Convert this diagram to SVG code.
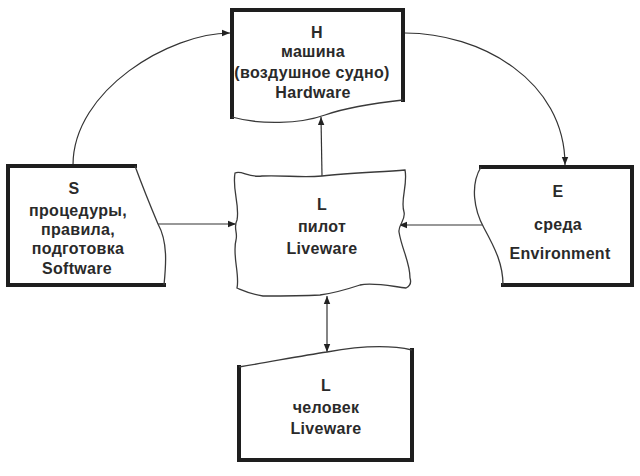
<svg xmlns="http://www.w3.org/2000/svg" width="640" height="476" viewBox="0 0 640 476">
<style>
.thick{fill:none;stroke:#1e1e1e;stroke-width:4;stroke-linejoin:miter;stroke-linecap:square}
.thin{fill:none;stroke:#3a3a3a;stroke-width:1.3}
.bg{fill:#fff;stroke:none}
.t{font-family:"Liberation Sans",Arial,sans-serif;font-size:16px;letter-spacing:0.3px;font-weight:bold;fill:#2a2a2a;text-anchor:middle}
.c{fill:none;stroke:#333;stroke-width:1.2}
</style>
<defs>
<marker id="ah" viewBox="0 0 10 10" refX="10" refY="5" markerWidth="8" markerHeight="8" markerUnits="userSpaceOnUse" orient="auto-start-reverse">
<path d="M0,1 L10,5 L0,9 Z" fill="#222"/>
</marker>
</defs>
<rect width="640" height="476" fill="#fff"/>
<g id="connectors">
<path class="c" d="M73,165 C73,90 170,33 230,33" marker-end="url(#ah)"/>
<path class="c" d="M405,33 C480,33 565,80 565,165" marker-end="url(#ah)"/>
<path class="c" d="M322,176 L321,117" marker-end="url(#ah)"/>
<path class="c" d="M157,224 L236,224" marker-end="url(#ah)"/>
<path class="c" d="M482,225 L399,225" marker-end="url(#ah)"/>
<path class="c" d="M327,296 L327,352" marker-start="url(#ah)" marker-end="url(#ah)"/>
</g>
<g id="H">
<path class="bg" d="M232,10 L403,10 L403,100 C375,103 345,108 325,115 C300,124 260,125 232,117 Z"/>
<path class="thick" d="M232,117 L232,10 L403,10 L403,100"/>
<path class="thin" d="M403,100 C375,103 345,108 325,115 C300,124 260,125 232,117"/>
<text class="t" x="317" y="38">H</text>
<text class="t" x="313" y="57">машина</text>
<text class="t" x="312" y="78">(воздушное судно)</text>
<text class="t" x="313" y="98">Hardware</text>
</g>
<g id="S">
<path class="bg" d="M8,166 L135,166 C142,185 150,205 158,224 C168,242 166,265 164,285 L8,285 Z"/>
<path class="thick" d="M135,166 L8,166 L8,285 L164,285"/>
<path class="thin" d="M135,166 C142,185 150,205 158,224 C168,242 166,265 164,285"/>
<text class="t" x="74" y="194">S</text>
<text class="t" x="78" y="216">процедуры,</text>
<text class="t" x="78" y="235">правила,</text>
<text class="t" x="78" y="254">подготовка</text>
<text class="t" x="77" y="274">Software</text>
</g>
<g id="Lpilot">
<path class="thin" style="fill:#fff" d="M235,173 C242,170 248,178 262,176 C285,175 300,178 322,176 C350,173 380,172 405,170 C408,185 400,200 404,212 C406,220 398,225 399,232 C402,250 410,262 410,278 C412,284 408,287 406,288 C390,286 372,282 360,285 C345,290 335,293 320,295 C300,296 280,296 263,296 C250,294 242,290 237,288 C240,275 232,255 236,240 C238,232 233,228 237,220 C240,205 232,190 235,173 Z"/>
<text class="t" x="322" y="210">L</text>
<text class="t" x="322" y="232">пилот</text>
<text class="t" x="322" y="254">Liveware</text>
</g>
<g id="E">
<path class="bg" d="M481,167 L632,167 L632,285 L503,285 C503,265 496,250 484,228 C474,210 470,185 481,167 Z"/>
<path class="thick" d="M481,167 L632,167 L632,285 L503,285"/>
<path class="thin" d="M481,167 C470,185 474,210 484,228 C496,250 503,265 503,285"/>
<text class="t" x="558" y="197">E</text>
<text class="t" x="558" y="230">среда</text>
<text class="t" x="560" y="259">Environment</text>
</g>
<g id="Lhuman">
<path class="bg" d="M239,367 C270,362 300,356 327,352 C360,346 390,345 412,350 L412,460 L239,460 Z"/>
<path class="thick" d="M239,367 L239,460 L412,460 L412,350"/>
<path class="thin" d="M239,367 C270,362 300,356 327,352 C360,346 390,345 412,350"/>
<text class="t" x="326" y="391">L</text>
<text class="t" x="326" y="413">человек</text>
<text class="t" x="326" y="434">Liveware</text>
</g>
</svg>
